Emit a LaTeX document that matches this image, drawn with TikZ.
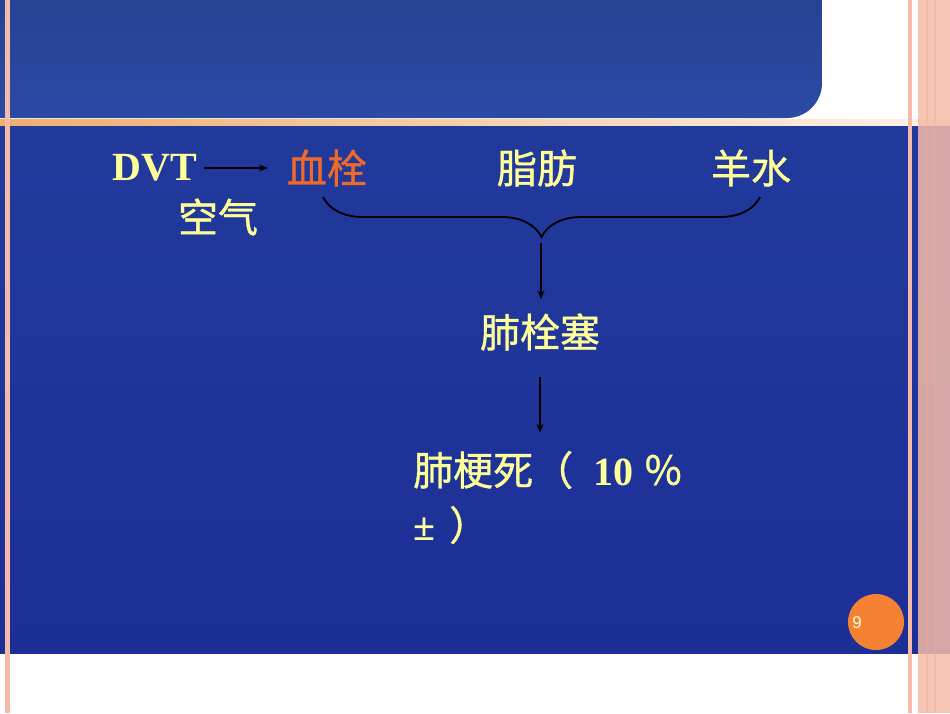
\documentclass[tikz,border=0pt]{standalone}
\usepackage{fontspec}
\setmainfont{Liberation Serif}
\newfontfamily\cjk{Noto Sans CJK SC}[FakeBold=0.9]
\newfontfamily\pagefont{Liberation Sans}
\usepackage{tikz}
\usetikzlibrary{positioning}
\usetikzlibrary{arrows.meta}
\usetikzlibrary{decorations.pathreplacing}
\definecolor{slideblue}{HTML}{2B4AA4}
\definecolor{deepblue}{HTML}{1C2F97}
\definecolor{midblue}{HTML}{4052AD}
\definecolor{paleyellow}{HTML}{FFFF99}
\definecolor{clotorange}{HTML}{EE6A2A}
\definecolor{pagepink}{HTML}{F6BBA8}
\definecolor{bandorange}{HTML}{F0AE6C}
\definecolor{badgeorange}{HTML}{F58232}

\begin{document}
\begin{tikzpicture}[x=1pt,y=-1pt,
        word/.style={inner sep=0pt,text=paleyellow,font=\cjk\fontsize{40}{40}\selectfont},
        latin/.style={inner sep=0pt,text=paleyellow,font=\bfseries\fontsize{40}{40}\selectfont},
        link/.style={-{Stealth[length=9pt,width=7pt]},line width=1.6pt,black}]
        \useasboundingbox (0,0) rectangle (950,713);
        \fill[white] (0,0) rectangle (950,713);
        \shade[top color=slideblue!90!black,bottom color=slideblue] (0,0) -- (822,0) -- (822,83) arc[start angle=0,end angle=90,radius=35] -- (0,118) -- cycle;
        \shade[left color=bandorange,right color=bandorange!15] (0,119) rectangle (950,126);
        \shade[top color=deepblue!60!slideblue,middle color=midblue,bottom color=deepblue] (0,126) rectangle (950,653);
        \fill[pagepink] (5,0) rectangle (10,713);
        \fill[pagepink] (908,0) rectangle (912,713);
        \fill[pagepink,opacity=.85] (918,0) rectangle (950,713);
        \fill[pagepink!80!brown,opacity=.35] (926,0) rectangle (928,713);
        \fill[pagepink!80!brown,opacity=.35] (934,0) rectangle (936,713);

        \node[latin] (dvt) at (155,168) {DVT};
        \node[word,text=clotorange] (xueshuan) at (327,168) {血栓};
        \node[word] (zhifang) at (537,168) {脂肪};
        \node[word] (yangshui) at (751,168) {羊水};
        \node[word] (kongqi) at (218,217) {空气};
        \node[word] (feishuan) at (540,332) {肺栓塞};
        \node[word,anchor=west] (feigeng) at (413,470) {肺梗死（\hspace{20pt}{\rmfamily\bfseries 10}\hspace{10pt}％};
        \node[word,anchor=west] (tail) at (413,525) {{\rmfamily\bfseries ±}\hspace{14pt}）};

        \coordinate (bl) at (323,197);
        \coordinate (br) at (760,197);
        \coordinate (tip) at (541,243);

        \draw[link,shorten <=7pt,shorten >=19pt] (dvt.east) -- (xueshuan.west);
        \draw[line width=1.8pt,decorate,decoration={brace,mirror,amplitude=40pt}] (bl) -- (br);
        \draw[link,shorten >=14pt] (tip) -- (tip |- feishuan.north);
        \draw[link,shorten <=26pt,shorten >=18pt] (feishuan.south) -- (feishuan.south |- feigeng.north);

        \node[circle,fill=badgeorange,minimum size=56pt,inner sep=0pt] (badge) at (876,622) {};
        \node[inner sep=0pt,text=white!85!yellow,font=\pagefont\fontsize{17}{17}\selectfont] (pagenum) at (857,623) {9};
      \end{tikzpicture}
\end{document}
